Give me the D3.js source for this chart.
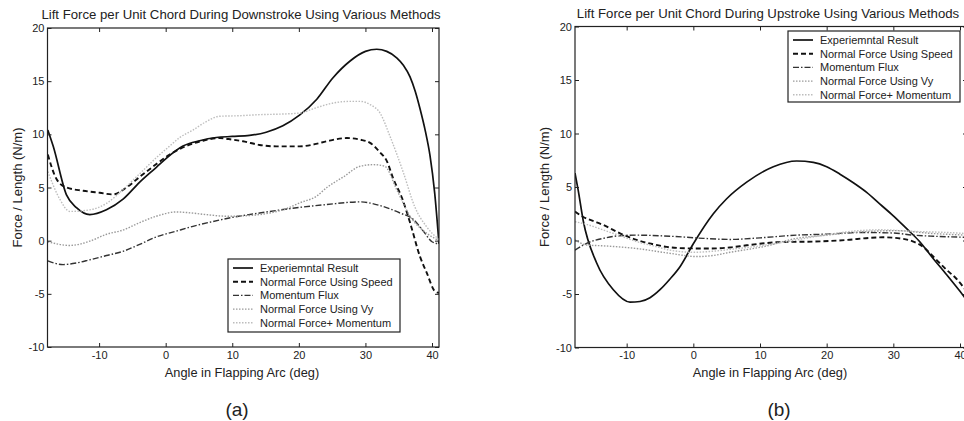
<!DOCTYPE html>
<html>
<head>
<meta charset="utf-8">
<script src="https://cdn.jsdelivr.net/npm/d3@7"></script>
<style>
  html, body { margin: 0; padding: 0; background: #fff; }
  svg { display: block; overflow: hidden; }
  text { font-family: Arial, "Liberation Sans", sans-serif; fill: #222; }
</style>
</head>
<body>
<svg id="fig" width="964" height="421"></svg>
<script>
// Series names, shared by both panels
const seriesNames = [
  "Experiemntal Result",
  "Normal Force Using Speed",
  "Momentum Flux",
  "Normal Force Using Vy",
  "Normal Force+ Momentum"
];

// Axis ticks
const xTicks = [-10, 0, 10, 20, 30, 40];
const yTicks = [-10, -5, 0, 5, 10, 15, 20];
const xDomain = [-17.75, 41.05];
const yDomain = [-10, 20];

// Downstroke: [angle (deg), force per length (N/m)]
const downExperimental = [[-17.7,10.4],[-16.9,8.9],[-14.9,4.3],[-13.4,3.1],[-11.4,2.45],[-8.9,2.9],[-6.4,3.9],[-3.9,5.5],[-1.4,6.9],[0,7.7],[2.6,8.9],[5.1,9.4],[7.6,9.7],[10,9.8],[12.6,9.9],[15.1,10.2],[17.6,10.8],[20.1,11.8],[22.7,13.3],[25.1,15.3],[27.7,16.9],[30,17.8],[31.7,18.0],[33.2,17.8],[34.7,17.2],[35.7,16.5],[36.7,15.4],[37.5,14.0],[38.2,12.4],[39.0,10.3],[39.7,8.0],[40.4,4.5],[41.05,-0.3]];
const downSpeed = [[-17.7,8.1],[-16.4,5.8],[-14.9,5.0],[-12.4,4.7],[-9.9,4.5],[-7.9,4.35],[-5.9,5.0],[-3.9,6.0],[-1.4,7.2],[0.6,8.1],[3.1,8.9],[5.6,9.4],[8.1,9.65],[10,9.5],[11.6,9.35],[14.1,9.0],[16.6,8.87],[20.1,8.87],[22.6,9.1],[24.2,9.35],[27.2,9.65],[29.2,9.5],[30.7,9.2],[32.2,8.3],[33.2,7.5],[34.2,5.8],[35.5,4.0],[36.7,1.7],[38.2,-1.5],[39.2,-3.0],[40.5,-4.8],[41.05,-4.9]];
const downMomentum = [[-17.7,-1.9],[-15.4,-2.25],[-13.4,-2.1],[-11.4,-1.8],[-8.9,-1.4],[-6.4,-1.0],[-3.9,-0.35],[-1.4,0.35],[1.6,0.9],[4.1,1.35],[7.1,1.8],[10.1,2.2],[14.1,2.6],[19.1,3.05],[24.2,3.4],[29.2,3.65],[32.2,3.3],[35.2,2.6],[37.2,2.0],[38.7,0.9],[40.0,-0.1],[41.05,-0.3]];
const downVy = [[-17.7,-0.1],[-14.4,-0.45],[-11.4,-0.05],[-8.9,0.6],[-6.4,1.0],[-3.9,1.7],[-1.4,2.3],[1.6,2.7],[3.1,2.65],[6.1,2.45],[9.1,2.3],[12.1,2.35],[15.6,2.6],[18.1,3.0],[20.1,3.55],[22.7,4.2],[24.2,5.0],[26.7,6.0],[29.2,7.0],[31.2,7.15],[32.9,7.0],[34.7,4.8],[36.7,2.3],[39.2,0.7],[41.05,0.0]];
const downCombined = [[-17.7,6.5],[-15.9,3.9],[-14.4,2.75],[-11.4,2.9],[-8.9,3.5],[-6.4,4.8],[-3.9,6.3],[-1.4,7.8],[0.6,8.9],[2.1,9.7],[4.1,10.4],[6.1,11.2],[8.1,11.7],[11.1,11.75],[14.1,11.85],[17.1,11.9],[20.1,12.0],[22.6,12.5],[25.2,12.95],[27.7,13.1],[29.2,13.1],[30.7,12.8],[32.2,12.0],[33.7,9.8],[35.7,6.4],[37.4,3.2],[39.2,1.3],[41.05,0.1]];

// Upstroke: [angle (deg), force per length (N/m)]
const upExperimental = [[-17.75,6.3],[-17.3,4.8],[-16.5,1.8],[-14.5,-2.1],[-12,-4.6],[-9.5,-5.75],[-8,-5.7],[-6.5,-5.35],[-5,-4.6],[-3.5,-3.6],[-2,-2.45],[0,-0.3],[3,2.5],[5,3.9],[8,5.45],[12,6.9],[15.5,7.43],[18,7.3],[20,6.9],[22,6.2],[24,5.4],[26,4.5],[28,3.4],[30,2.3],[32,1.1],[33.8,0],[36,-1.7],[38,-3.2],[40,-4.75],[41.05,-5.6]];
const upSpeed = [[-17.75,2.7],[-16.5,2.2],[-14.5,1.7],[-13.5,1.45],[-11,0.67],[-8.5,0.05],[-6,-0.35],[-4,-0.6],[-1,-0.73],[2,-0.75],[5.5,-0.65],[8,-0.45],[13,-0.15],[18,-0.1],[23,0.05],[26.5,0.25],[28.5,0.3],[31.5,0.15],[33,-0.1],[34.5,-0.6],[35.5,-1.2],[38,-2.75],[39.5,-3.6],[41.05,-4.8]];
const upMomentum = [[-17.75,-0.9],[-16,-0.26],[-13.5,0.2],[-11,0.45],[-8.5,0.5],[-3.5,0.4],[1.5,0.2],[5.5,0.1],[10,0.25],[15.5,0.5],[20,0.6],[25.5,0.75],[30,0.7],[33,0.5],[36,0.4],[41.05,0.3]];
const upVy = [[-17.75,0.05],[-16,-0.42],[-13.5,-0.5],[-8.5,-0.75],[-3.5,-1.2],[0.5,-1.5],[3,-1.4],[5.5,-1.1],[8,-0.85],[10.5,-0.58],[15.5,0.2],[20,0.5],[25.5,0.82],[30.5,0.92],[35.5,0.67],[41.05,0.5]];
const upCombined = [[-17.75,1.76],[-16,1.5],[-13.5,0.98],[-11,0.45],[-8.5,-0.1],[-6,-0.5],[-3.5,-0.9],[0,-1.1],[3,-1.0],[6,-0.8],[10,-0.5],[15,0.0],[20,0.55],[25.5,0.95],[28,1.0],[33,0.85],[38,0.75],[41.05,0.65]];

// Line styles per series (solid, dashed, dash-dot, dotted, light dotted)
const styles = [
  { stroke: "#111", width: 1.7, dash: null },
  { stroke: "#111", width: 1.9, dash: "5,3" },
  { stroke: "#333", width: 1.4, dash: "6,2,1.5,2" },
  { stroke: "#9a9a9a", width: 1.4, dash: "1.5,1.5" },
  { stroke: "#bdbdbd", width: 1.4, dash: "1.5,1.5" }
];

const svg = d3.select("#fig");
const plainNumber = d => String(d); // ASCII hyphen for negatives

function panel(cfg) {
  const g = svg.append("g");
  const x = d3.scaleLinear().domain(xDomain).range([cfg.left, cfg.right]);
  const y = d3.scaleLinear().domain(yDomain).range([cfg.bottom, cfg.top]);
  const clipId = "clip-" + cfg.id;

  g.append("clipPath").attr("id", clipId)
    .append("rect")
    .attr("x", cfg.left).attr("y", cfg.top)
    .attr("width", cfg.right - cfg.left).attr("height", cfg.bottom - cfg.top);

  // curves
  const line = d3.line()
    .x(d => x(d[0])).y(d => y(d[1]))
    .curve(d3.curveMonotoneX);
  const lines = g.append("g").attr("clip-path", `url(#${clipId})`);
  cfg.series.forEach((s, i) => {
    const st = styles[i];
    lines.append("path")
      .datum(s)
      .attr("d", line)
      .attr("fill", "none")
      .attr("stroke", st.stroke)
      .attr("stroke-width", st.width)
      .attr("stroke-dasharray", st.dash)
      .attr("stroke-linejoin", "round");
  });

  // axes: inward ticks on all four sides
  const tickLen = 4;
  const axisStyle = sel => {
    sel.select(".domain").remove();
    sel.selectAll(".tick line").attr("stroke", "#222");
    sel.selectAll(".tick text")
      .style("font-family", "Arial, 'Liberation Sans', sans-serif")
      .style("font-size", "11px")
      .attr("fill", "#222");
  };
  g.append("g").attr("transform", `translate(0,${cfg.bottom})`)
    .call(d3.axisBottom(x).tickValues(xTicks).tickFormat(plainNumber).tickSizeInner(-tickLen).tickSizeOuter(0).tickPadding(4))
    .call(axisStyle);
  g.append("g").attr("transform", `translate(0,${cfg.top})`)
    .call(d3.axisTop(x).tickValues(xTicks).tickSizeInner(-tickLen).tickSizeOuter(0).tickFormat(""))
    .call(axisStyle);
  g.append("g").attr("transform", `translate(${cfg.left},0)`)
    .call(d3.axisLeft(y).tickValues(yTicks).tickFormat(plainNumber).tickSizeInner(-tickLen).tickSizeOuter(0).tickPadding(3))
    .call(axisStyle);
  g.append("g").attr("transform", `translate(${cfg.right},0)`)
    .call(d3.axisRight(y).tickValues(yTicks).tickSizeInner(-tickLen).tickSizeOuter(0).tickFormat(""))
    .call(axisStyle);

  // box
  g.append("rect")
    .attr("x", cfg.left).attr("y", cfg.top)
    .attr("width", cfg.right - cfg.left).attr("height", cfg.bottom - cfg.top)
    .attr("fill", "none").attr("stroke", "#222").attr("stroke-width", 1.2);

  // title and axis labels
  g.append("text")
    .attr("x", cfg.titleX).attr("y", cfg.top - 9)
    .attr("text-anchor", "middle")
    .style("font-size", "13.2px")
    .text(cfg.title);
  g.append("text")
    .attr("x", cfg.xLabelX).attr("y", 377)
    .attr("text-anchor", "middle")
    .style("font-size", "12.8px")
    .text("Angle in Flapping Arc (deg)");
  g.append("text")
    .attr("transform", `translate(${cfg.yLabelX},${(cfg.top + cfg.bottom) / 2}) rotate(-90)`)
    .attr("text-anchor", "middle")
    .style("font-size", "13px")
    .text("Force / Length (N/m)");
  g.append("text")
    .attr("x", cfg.tagX).attr("y", 416)
    .attr("text-anchor", "middle")
    .style("font-size", "19px")
    .text(cfg.tag);

  // legend
  const L = cfg.legend;
  const lg = g.append("g");
  lg.append("rect")
    .attr("x", L.x).attr("y", L.y).attr("width", L.w).attr("height", L.h)
    .attr("fill", "#fff").attr("stroke", "#222").attr("stroke-width", 1.2);
  seriesNames.forEach((name, i) => {
    const st = styles[i];
    const cy = L.y + 9 + i * 13.7;
    lg.append("line")
      .attr("x1", L.x + 5).attr("x2", L.x + 25)
      .attr("y1", cy).attr("y2", cy)
      .attr("stroke", st.stroke).attr("stroke-width", st.width)
      .attr("stroke-dasharray", st.dash);
    lg.append("text")
      .attr("x", L.x + 32).attr("y", cy + 4)
      .style("font-size", "11px")
      .text(name);
  });
}

panel({
  id: "down",
  left: 47.5, right: 439, top: 28, bottom: 347,
  xLabelX: 242, titleX: 241, yLabelX: 22, tagX: 237, tag: "(a)",
  title: "Lift Force per Unit Chord During Downstroke Using Various Methods",
  series: [downExperimental, downSpeed, downMomentum, downVy, downCombined],
  legend: { x: 228, y: 259, w: 172, h: 73 }
});

panel({
  id: "up",
  left: 575, right: 967, top: 26.5, bottom: 347.5,
  xLabelX: 770, titleX: 768, yLabelX: 549, tagX: 779, tag: "(b)",
  title: "Lift Force per Unit Chord During Upstroke Using Various Methods",
  series: [upExperimental, upSpeed, upMomentum, upVy, upCombined],
  legend: { x: 788, y: 31, w: 172, h: 71 }
});
</script>
</body>
</html>
